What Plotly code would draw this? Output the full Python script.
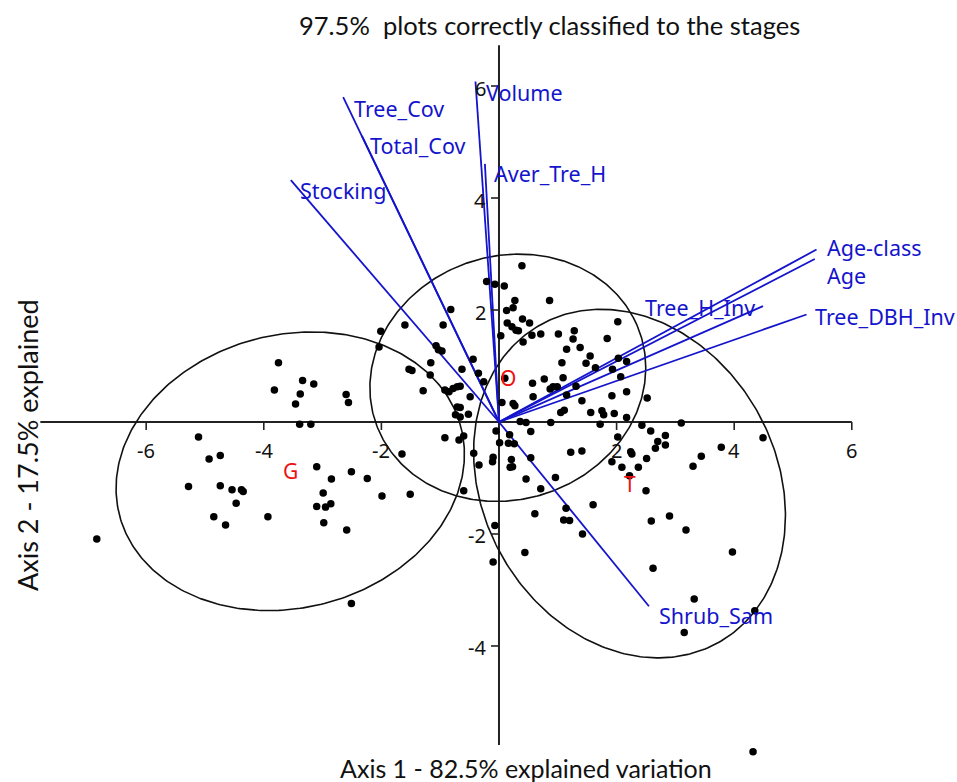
import numpy as np
import plotly.graph_objects as go

# Site scores on discriminant axes 1 and 2
axis1 = [
    -6.84, -5.11, -4.93, -4.74, -5.28, -4.74, -4.54, -4.38, -4.35, -4.47,
    -4.85, -4.65, -3.93, -3.10, -2.85, -2.51, -2.24, -2.99, -3.10, -2.95,
    -2.86, -2.98, -2.59, -1.99, -1.51, -1.65, -2.51, -3.75, -3.82, -3.34,
    -3.15, -3.38, -3.46, -2.60, -2.56, -3.39, -3.20, -0.92, -0.68, -0.60,
    -0.60, -0.43, -0.34, -2.01, -2.04, -1.60, -0.95, -0.82, -1.07, -1.03,
    -0.97, -1.16, -1.53, -1.48, -0.63, -1.17, -1.29, -0.92, -0.85, -0.78,
    -0.71, -0.66, -0.44, -0.35, -0.26, -0.49, -0.71, -0.66, -0.74, -0.66,
    -0.52, -0.21, -0.07, 0.09, 0.13, 0.14, 0.03, 0.39, 0.27, 0.24,
    0.22, 0.29, 0.33, 0.40, 0.52, 0.56, 0.71, 0.41, 0.86, 1.01,
    1.28, 1.26, 1.15, 1.38, 1.55, 1.07, 1.84, 2.02, 1.48, 1.64,
    1.93, 2.03, 2.17, 2.07, 0.57, 0.77, 1.09, 0.87, 0.92, 0.99,
    1.31, 1.15, 0.58, 1.41, 1.92, 2.17, 2.52, 0.24, 0.27, 1.05,
    1.11, 1.56, 1.75, 1.78, 1.96, 2.17, 0.88, 0.36, 0.46, 0.05,
    0.10, 1.72, 2.43, 3.10, -0.05, 0.54, 0.18, 0.01, 0.16, 0.26,
    2.58, 2.83, 2.70, 2.83, 2.66, 2.02, 4.49, 1.22, 1.41, 2.24,
    2.26, 1.92, 2.09, 2.37, 2.51, 3.78, 3.44, 3.30, 2.22, -0.10,
    -0.11, 0.21, 0.23, 0.19, 0.54, 0.46, 0.71, 0.96, 2.50, 1.60,
    1.14, 0.61, 1.10, 1.20, 2.59, 2.90, 3.18, 1.42, 3.97, 0.44,
    2.62, -0.10, -0.07, 3.32, 4.35, 3.15, 4.32,
]
axis2 = [
    -2.09, -0.27, -0.66, -0.60, -1.15, -1.14, -1.21, -1.21, -1.24, -1.45,
    -1.69, -1.84, -1.69, -0.80, -1.02, -0.89, -1.01, -1.27, -1.51, -1.52,
    -1.46, -1.80, -1.93, -1.32, -1.29, -0.57, -3.24, 1.06, 0.57, 0.74,
    0.68, 0.50, 0.32, 0.49, 0.35, -0.04, -0.04, -0.28, -0.32, -0.25,
    -1.23, -0.56, -0.77, 1.62, 1.34, 1.73, 1.73, 2.01, 1.36, 1.29,
    1.27, 1.06, 0.94, 0.92, 0.94, 0.84, 0.56, 0.57, 0.54, 0.60,
    0.63, 0.64, 1.12, 0.87, 0.72, 0.45, 0.27, 0.26, 0.13, 0.09,
    0.14, 2.51, 2.46, 2.43, 1.99, 1.77, 1.54, 2.79, 2.17, 2.04,
    1.70, 1.64, 1.63, 1.84, 1.77, 1.55, 1.57, 1.43, 2.17, 1.57,
    1.63, 1.48, 1.30, 1.33, 1.18, 1.06, 1.49, 1.79, 1.05, 0.97,
    0.94, 1.14, 1.08, 0.81, 0.69, 0.77, 0.79, 0.59, 0.63, 0.63,
    0.64, 0.48, 0.45, 0.38, 0.47, 0.54, 0.43, 0.33, 0.29, 0.17,
    0.21, 0.17, 0.20, 0.13, 0.15, 0.08, -0.01, 0.01, -0.01, 0.35,
    0.78, -0.04, -0.06, -0.02, -0.16, -0.17, -0.23, -0.37, -0.38, -0.39,
    -0.16, -0.24, -0.35, -0.41, -0.47, -0.27, -0.28, -0.54, -0.52, -0.53,
    -0.57, -0.71, -0.81, -0.81, -0.65, -0.45, -0.61, -0.79, -0.96, -0.63,
    -0.71, -0.67, -0.80, -0.81, -0.64, -1.02, -1.19, -0.99, -1.23, -1.48,
    -1.54, -1.64, -1.75, -1.76, -1.77, -1.68, -1.93, -2.00, -2.32, -2.33,
    -2.61, -2.50, -1.85, -3.16, -3.37, -3.76, -5.89,
]

# Structure coefficients of the habitat variables (biplot vectors)
var_names = ["Volume", "Tree_Cov", "Total_Cov", "Stocking", "Aver_Tre_H",
             "Age-class", "Age", "Tree_H_Inv", "Tree_DBH_Inv", "Shrub_Sam"]
var_x = [-0.40, -2.65, -2.33, -3.54, -0.24, 5.40, 5.37, 4.49, 5.23, 2.55]
var_y = [6.08, 5.80, 5.11, 4.32, 4.61, 3.08, 2.91, 2.07, 1.92, -3.29]

# Stage centroids and their 95% ellipses
stage_names = ["G", "O", "T"]
stage_x = [-3.55, 0.15, 2.22]
stage_y = [-0.88, 0.79, -1.10]
ell_major = [3.01, 2.39, 3.22]
ell_minor = [2.43, 2.16, 2.52]
ell_angle = [17.5, 26.6, -65.7]

x_ticks = [-6, -4, -2, 2, 4, 6]
y_ticks = [-4, -2, 2, 4, 6]
x_line = [-7.8, 6.0]
y_line = [-5.77, 6.73]

# Label placement (pixel offsets from each vector tip)
label_offsets = {
    "Volume": (9, -11, "left"),
    "Tree_Cov": (9, -11, "left"),
    "Total_Cov": (6, -10, "left"),
    "Stocking": (7, -10, "left"),
    "Aver_Tre_H": (7, -10, "left"),
    "Age-class": (8, 2, "left"),
    "Age": (10, -16, "left"),
    "Tree_H_Inv": (-6, -1, "right"),
    "Tree_DBH_Inv": (6, -2, "left"),
    "Shrub_Sam": (8, -9, "left"),
}

BLUE = "#1414cc"
LINE = "#222222"
TICK_FONT = dict(family="Noto Sans, Open Sans, sans-serif", size=20, color="#111111")
LABEL_FONT = dict(family="Noto Sans, Open Sans, sans-serif", size=21.5, color=BLUE)
TITLE_FONT = "Lato, Carlito, sans-serif"

fig = go.Figure()

# Ellipses around each stage
t = np.linspace(0, 2 * np.pi, 361)
for cx, cy, a, b, ang in zip(stage_x, stage_y, ell_major, ell_minor, ell_angle):
    th = np.deg2rad(ang)
    ex = cx + a * np.cos(th) * np.cos(t) - b * np.sin(th) * np.sin(t)
    ey = cy + a * np.sin(th) * np.cos(t) + b * np.cos(th) * np.sin(t)
    fig.add_trace(go.Scatter(x=ex, y=ey, mode="lines",
                             line=dict(color="#111111", width=1.6),
                             hoverinfo="skip", showlegend=False))

# Biplot vectors from the origin
vx, vy = [], []
for x, y in zip(var_x, var_y):
    vx += [0, x, None]
    vy += [0, y, None]
fig.add_trace(go.Scatter(x=vx, y=vy, mode="lines",
                         line=dict(color=BLUE, width=1.8),
                         hoverinfo="skip", showlegend=False))

# Plot scores
fig.add_trace(go.Scatter(x=axis1, y=axis2, mode="markers",
                         marker=dict(color="black", size=7.5),
                         showlegend=False))

shapes = [
    dict(type="line", xref="x", yref="y", x0=x_line[0], x1=x_line[1], y0=0, y1=0,
         line=dict(color=LINE, width=2), layer="below"),
    dict(type="line", xref="x", yref="y", x0=0, x1=0, y0=y_line[0], y1=y_line[1],
         line=dict(color=LINE, width=2), layer="below"),
]
annotations = []
for v in x_ticks:
    shapes.append(dict(type="line", xref="x", yref="y", ysizemode="pixel", yanchor=0,
                       x0=v, x1=v, y0=0, y1=-8, line=dict(color=LINE, width=1.6)))
    annotations.append(dict(x=v, y=0, xref="x", yref="y", text=str(v), showarrow=False,
                            yshift=-29, font=TICK_FONT))
for v in y_ticks:
    shapes.append(dict(type="line", xref="x", yref="y", xsizemode="pixel", xanchor=0,
                       x0=0, x1=-8, y0=v, y1=v, line=dict(color=LINE, width=1.6)))
    annotations.append(dict(x=0, y=v, xref="x", yref="y", text=str(v), showarrow=False,
                            xanchor="right", xshift=-11, yshift=-2, font=TICK_FONT))

for name, x, y in zip(var_names, var_x, var_y):
    dx, dy, anchor = label_offsets[name]
    annotations.append(dict(x=x, y=y, xref="x", yref="y", text=name, showarrow=False,
                            xanchor=anchor, yanchor="middle", xshift=dx, yshift=dy,
                            font=LABEL_FONT))

for name, x, y in zip(stage_names, stage_x, stage_y):
    annotations.append(dict(x=x, y=y, xref="x", yref="y", text=name, showarrow=False,
                            font=dict(family="Noto Sans, sans-serif", size=21, color="#ee1111")))

annotations += [
    dict(xref="paper", yref="paper", x=0.5747, y=0.968, xanchor="center", yanchor="middle",
         text="97.5%  plots correctly classified to the stages", showarrow=False,
         font=dict(family=TITLE_FONT, size=25.5, color="#111111")),
    dict(xref="paper", yref="paper", x=0.5496, y=0.0179, xanchor="center", yanchor="middle",
         text="Axis 1 - 82.5% explained variation", showarrow=False,
         font=dict(family=TITLE_FONT, size=25, color="#111111")),
    dict(xref="paper", yref="paper", x=0.0293, y=0.431, xanchor="center", yanchor="middle",
         text="Axis 2 - 17.5% explained", showarrow=False, textangle=-90,
         font=dict(family=TITLE_FONT, size=27, color="#111111")),
]

fig.update_layout(
    width=957, height=782,
    margin=dict(l=0, r=0, t=0, b=0),
    paper_bgcolor="white", plot_bgcolor="white",
    xaxis=dict(range=[-8.486, 7.789], visible=False, fixedrange=True),
    yaxis=dict(range=[-6.429, 7.536], visible=False, fixedrange=True),
    shapes=shapes, annotations=annotations,
    showlegend=False,
)

fig.write_html("out.html")
